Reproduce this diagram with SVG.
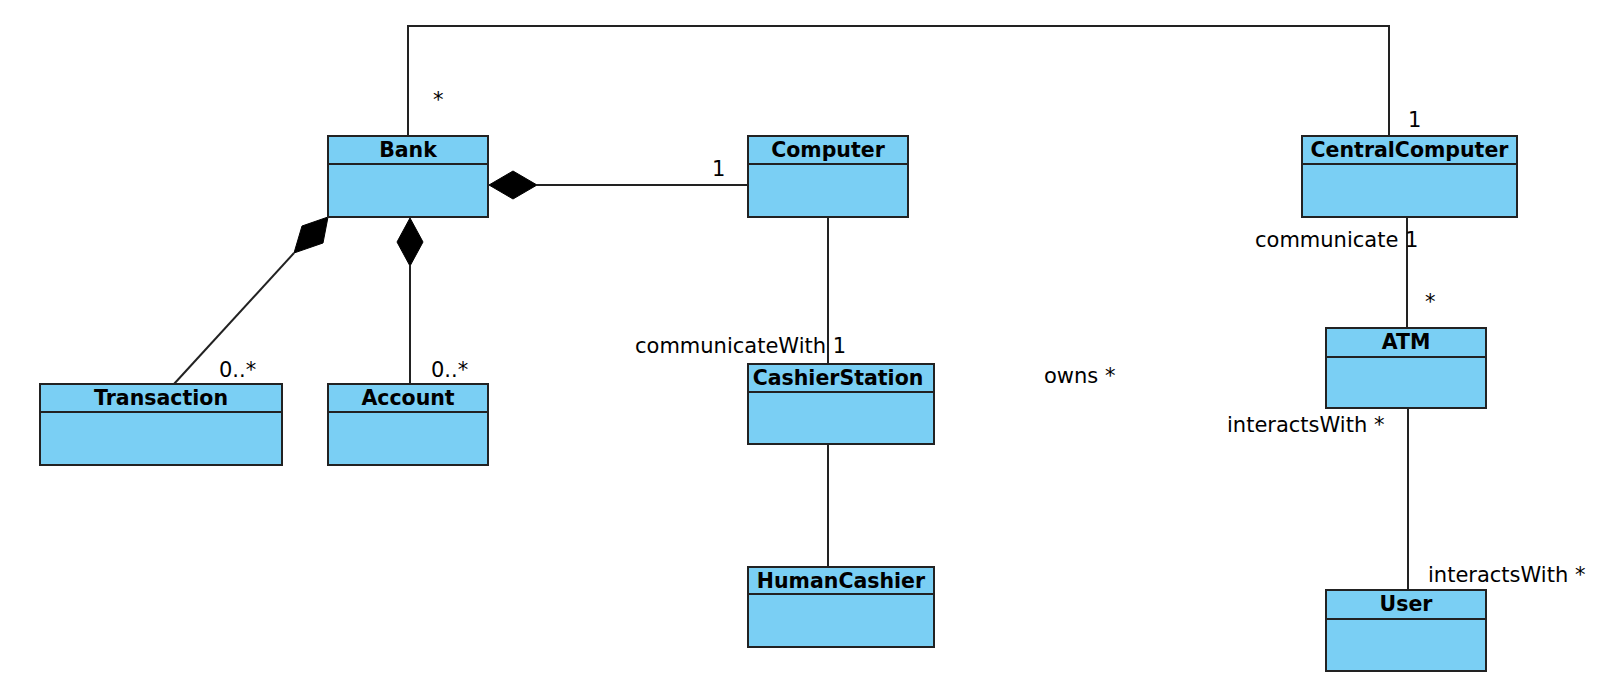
<svg xmlns="http://www.w3.org/2000/svg" width="1618" height="692" viewBox="0 0 1618 692">
<style>
.box{fill:#7ACFF4;stroke:#222;stroke-width:2}
.div{stroke:#222;stroke-width:2}
.title{font-family:"DejaVu Sans",sans-serif;font-weight:bold;font-size:20.5px;text-anchor:middle;fill:#000}
.lbl{font-family:"DejaVu Sans",sans-serif;font-size:21px;fill:#000}
.edge{fill:none;stroke:#222;stroke-width:2}
.dia{fill:#000;stroke:#000;stroke-width:1}
</style>
<rect width="1618" height="692" fill="#fff"/>
<g id="connectors">
<polyline class="edge" points="408,136 408,26 1389,26 1389,136"/>
<line class="edge" x1="537" y1="185" x2="748" y2="185"/>
<polygon class="dia" points="489,185 513,171 537,185 513,199"/>
<line class="edge" x1="294" y1="253" x2="174" y2="384"/>
<polygon class="dia" points="328,217 302,226 294,253 323,243"/>
<line class="edge" x1="410" y1="266" x2="410" y2="384"/>
<polygon class="dia" points="410,218 423,242 410,266 397,242"/>
<line class="edge" x1="828" y1="217" x2="828" y2="364"/>
<line class="edge" x1="828" y1="444" x2="828" y2="567"/>
<line class="edge" x1="1407" y1="217" x2="1407" y2="328"/>
<line class="edge" x1="1408" y1="408" x2="1408" y2="590"/>
<text class="lbl" x="433" y="107">*</text>
<text class="lbl" x="712" y="176">1</text>
<text class="lbl" x="1408" y="127">1</text>
<text class="lbl" x="1255" y="247">communicate 1</text>
<text class="lbl" x="1425" y="309">*</text>
<text class="lbl" x="635" y="353">communicateWith 1</text>
<text class="lbl" x="1044" y="383">owns *</text>
<text class="lbl" x="219" y="377">0..*</text>
<text class="lbl" x="431" y="377">0..*</text>
<text class="lbl" x="1227" y="432">interactsWith *</text>
<text class="lbl" x="1428" y="582">interactsWith *</text>
</g>
<g id="Bank">
<rect class="box" x="328" y="136" width="160" height="81"/>
<line class="div" x1="328" y1="164" x2="488" y2="164"/>
<text class="title" x="408" y="157">Bank</text>
</g>
<g id="Computer">
<rect class="box" x="748" y="136" width="160" height="81"/>
<line class="div" x1="748" y1="164" x2="908" y2="164"/>
<text class="title" x="828" y="157">Computer</text>
</g>
<g id="CentralComputer">
<rect class="box" x="1302" y="136" width="215" height="81"/>
<line class="div" x1="1302" y1="164" x2="1517" y2="164"/>
<text class="title" x="1409.5" y="157">CentralComputer</text>
</g>
<g id="ATM">
<rect class="box" x="1326" y="328" width="160" height="80"/>
<line class="div" x1="1326" y1="357" x2="1486" y2="357"/>
<text class="title" x="1406" y="349">ATM</text>
</g>
<g id="Transaction">
<rect class="box" x="40" y="384" width="242" height="81"/>
<line class="div" x1="40" y1="412" x2="282" y2="412"/>
<text class="title" x="161" y="405">Transaction</text>
</g>
<g id="Account">
<rect class="box" x="328" y="384" width="160" height="81"/>
<line class="div" x1="328" y1="412" x2="488" y2="412"/>
<text class="title" x="408" y="405">Account</text>
</g>
<g id="CashierStation">
<rect class="box" x="748" y="364" width="186" height="80"/>
<line class="div" x1="748" y1="392" x2="934" y2="392"/>
<text class="title" x="838" y="385">CashierStation</text>
</g>
<g id="HumanCashier">
<rect class="box" x="748" y="567" width="186" height="80"/>
<line class="div" x1="748" y1="594" x2="934" y2="594"/>
<text class="title" x="841" y="588">HumanCashier</text>
</g>
<g id="User">
<rect class="box" x="1326" y="590" width="160" height="81"/>
<line class="div" x1="1326" y1="619" x2="1486" y2="619"/>
<text class="title" x="1406" y="611">User</text>
</g>
</svg>
